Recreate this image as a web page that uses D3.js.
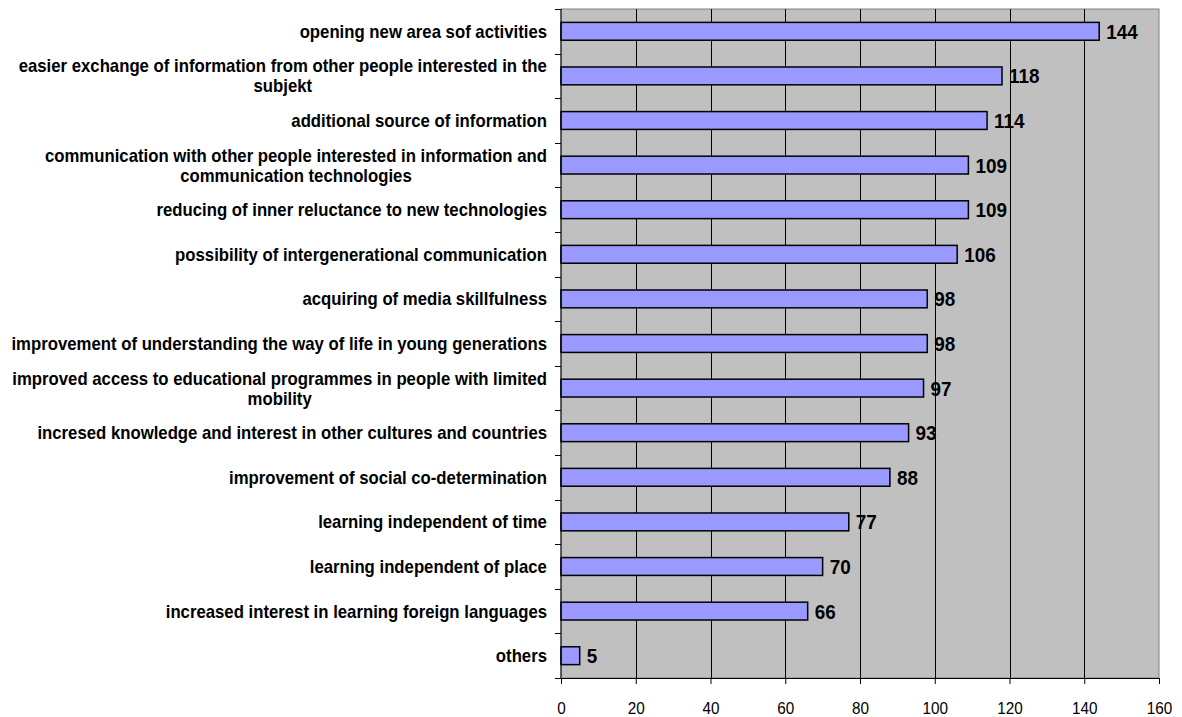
<!DOCTYPE html>
<html>
<head>
<meta charset="utf-8">
<script src="https://cdn.jsdelivr.net/npm/d3@7"></script>
<style>
  html, body { margin: 0; padding: 0; background: #fff; }
  svg { display: block; }
</style>
</head>
<body>
<svg id="chart" width="1182" height="717"></svg>
<script>
// Benefits named by respondents (line breaks mark wrapped labels)
const categories = [
  "opening new area sof activities",
  "easier exchange of information from other people interested in the\nsubjekt",
  "additional source of information",
  "communication with other people interested in information and\ncommunication technologies",
  "reducing of inner reluctance to new technologies",
  "possibility of intergenerational communication",
  "acquiring of media skillfulness",
  "improvement of understanding the way of life in young generations",
  "improved access to educational programmes in people with limited\nmobility",
  "incresed knowledge and interest in other cultures and countries",
  "improvement of social co-determination",
  "learning independent of time",
  "learning independent of place",
  "increased interest in learning foreign languages",
  "others"
];
const counts = [144, 118, 114, 109, 109, 106, 98, 98, 97, 93, 88, 77, 70, 66, 5];
const xTicks = [0, 20, 40, 60, 80, 100, 120, 140, 160];

const FONT = "Liberation Sans, Arial, sans-serif";
const svg = d3.select("#chart");
const plot = { left: 561, right: 1159, top: 9, bottom: 678 };

const x = d3.scaleLinear().domain([0, 160]).range([plot.left, plot.right]);
const y = d3.scaleBand().domain(categories).range([plot.top, plot.bottom])
  .paddingInner(0.6).paddingOuter(0.3);

// plot background
svg.append("rect")
  .attr("x", plot.left).attr("y", plot.top)
  .attr("width", plot.right - plot.left).attr("height", plot.bottom - plot.top)
  .attr("fill", "#c0c0c0").attr("stroke", "#808080").attr("stroke-width", 1);

// vertical gridlines
svg.append("g").selectAll("line")
  .data(xTicks.filter(d => d > 0 && d < 160))
  .join("line")
  .attr("x1", d => Math.round(x(d)) + 0.5).attr("x2", d => Math.round(x(d)) + 0.5)
  .attr("y1", plot.top).attr("y2", plot.bottom)
  .attr("stroke", "#000").attr("stroke-width", 1);

// bars
svg.append("g").selectAll("rect")
  .data(categories)
  .join("rect")
  .attr("x", x(0))
  .attr("y", d => y(d))
  .attr("width", (d, i) => x(counts[i]) - x(0))
  .attr("height", y.bandwidth())
  .attr("fill", "#9999ff")
  .attr("stroke", "#000").attr("stroke-width", 1.5);

// value labels (slightly condensed)
svg.append("g").selectAll("text")
  .data(categories)
  .join("text")
  .attr("transform", (d, i) =>
    `translate(${x(counts[i]) + 7},${y(d) + y.bandwidth() / 2}) scale(0.9,1)`)
  .attr("dy", "0.36em")
  .attr("font-family", FONT)
  .attr("font-weight", "bold")
  .attr("font-size", 21)
  .attr("fill", "#000")
  .text((d, i) => counts[i]);

// bottom axis
const xAxis = svg.append("g")
  .attr("transform", `translate(0,${plot.bottom})`)
  .call(d3.axisBottom(x).tickValues(xTicks).tickSize(6).tickPadding(18));
xAxis.select(".domain").attr("stroke", "#000");
xAxis.selectAll(".tick line").attr("stroke", "#000");
xAxis.selectAll(".tick text")
  .attr("font-family", FONT)
  .attr("font-size", 17)
  .attr("fill", "#000")
  .attr("transform", "scale(0.9,1)");

// left axis with ticks between categories
const leftAxis = svg.append("g");
leftAxis.append("line")
  .attr("x1", plot.left).attr("x2", plot.left)
  .attr("y1", plot.top).attr("y2", plot.bottom)
  .attr("stroke", "#000");
const step = y.step();
const boundaries = d3.range(categories.length + 1)
  .map(i => plot.top + i * step);
leftAxis.selectAll("line.tk")
  .data(boundaries)
  .join("line")
  .attr("class", "tk")
  .attr("x1", plot.left - 6).attr("x2", plot.left)
  .attr("y1", d => Math.round(d) + 0.5).attr("y2", d => Math.round(d) + 0.5)
  .attr("stroke", "#000");

// category labels: right-aligned block, centred lines, slightly condensed
const lineH = 20;
const labelRight = 547;
const labelScale = 0.93;
const labels = svg.append("g")
  .attr("font-family", FONT)
  .attr("font-weight", "bold")
  .attr("font-size", 18)
  .attr("fill", "#000");

categories.forEach(cat => {
  const lines = cat.split("\n");
  const cy = y(cat) + y.bandwidth() / 2;
  const g = labels.append("g")
    .attr("transform", `translate(${labelRight},${cy}) scale(${labelScale},1)`);
  const t = g.append("text").attr("text-anchor", "middle");
  const spans = lines.map((ln, k) =>
    t.append("tspan")
      .attr("x", 0)
      .attr("y", (k - (lines.length - 1) / 2) * lineH)
      .attr("dy", "0.36em")
      .text(ln));
  const w = t.node().getBBox().width;
  spans.forEach(s => s.attr("x", -w / 2));
});
</script>
</body>
</html>
